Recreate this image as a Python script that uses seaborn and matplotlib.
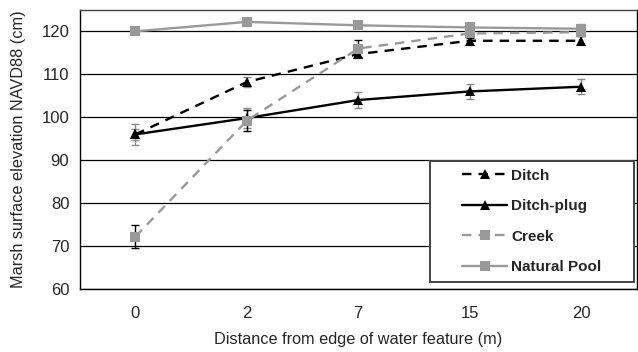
import numpy as np
import pandas as pd
import seaborn as sns
import matplotlib.pyplot as plt
from matplotlib.patches import Rectangle

distances = ["0", "2", "7", "15", "20"]
ditch = [96.0, 108.2, 114.7, 117.8, 117.8]
ditch_err = [1.2, 1.2, 1.0, 1.0, 1.0]
ditch_plug = [96.0, 99.8, 104.0, 106.0, 107.1]
ditch_plug_err = [2.4, 2.4, 1.8, 1.8, 1.7]
creek = [72.2, 99.2, 116.0, 119.5, 119.8]
creek_err = [2.6, 2.4, 2.0, 1.0, 1.0]
pool = [120.0, 122.2, 121.4, 120.9, 120.6]
pool_err = [0.5, 0.5, 0.6, 1.0, 1.0]

sns.set_style("white")
plt.rcParams["font.family"] = ["Liberation Sans", "DejaVu Sans"]

fig = plt.figure(figsize=(6.38, 3.52), dpi=100)
ax = fig.add_axes([0.125, 0.179, 0.873, 0.793])

pos = np.arange(len(distances))
series = [
    ("Ditch", ditch, ditch_err, "black", (0, (4, 3)), "^", "#888888"),
    ("Ditch-plug", ditch_plug, ditch_plug_err, "black", "-", "^", "#888888"),
    ("Creek", creek, creek_err, "#999999", (0, (4, 3)), "s", "black"),
    ("Natural Pool", pool, pool_err, "#999999", "-", "s", "#888888"),
]

for name, vals, errs, col, ls, mk, ecol in series:
    ax.errorbar(pos, vals, yerr=errs, fmt="none", ecolor=ecol, elinewidth=1,
                capsize=3, capthick=1, zorder=3)
    df = pd.DataFrame({"x": pos, "y": vals})
    sns.lineplot(data=df, x="x", y="y", ax=ax, color=col, linestyle=ls,
                 linewidth=1.7, marker=mk, markersize=7 if mk == "s" else 6.5,
                 markeredgewidth=0, label=name, zorder=4)

ax.set_xlim(-0.5, 4.45)
ax.set_ylim(60, 125)
ax.set_yticks(range(60, 121, 10))
ax.set_xticks(pos)
ax.set_xticklabels(distances)
ax.set_xticks(np.arange(-0.5, 4.6, 1), minor=True)
ax.tick_params(axis="x", which="major", length=0, labelsize=12, pad=12.5)
ax.tick_params(axis="x", which="minor", length=5, width=1, color="black", direction="out")
ax.tick_params(axis="y", length=4, width=1, color="black", direction="out", labelsize=12)
ax.yaxis.grid(True, color="black", linewidth=0.9)
ax.set_axisbelow(True)
for s in ax.spines.values():
    s.set_color("black")
    s.set_linewidth(1)
ax.spines["top"].set_color("#444444")

ax.set_xlabel("Distance from edge of water feature (m)", fontsize=11.7, labelpad=8)
ax.set_ylabel("Marsh surface elevation NAVD88 (cm)", fontsize=11.7, labelpad=11)

# legend box drawn separately: wide side padding like the original
box = Rectangle((430 / 638, 1 - 282 / 352), 204 / 638, 121 / 352,
                transform=fig.transFigure, facecolor="white",
                edgecolor="#444444", linewidth=1.4, zorder=5.5, clip_on=False)
ax.add_patch(box)
leg = ax.legend(loc="center", bbox_to_anchor=(532 / 638, 1 - 221.5 / 352),
                bbox_transform=fig.transFigure, frameon=False,
                prop={"weight": "bold", "size": 11}, handlelength=2.9,
                handletextpad=0.3, labelspacing=1.08)
leg.set_zorder(6)

fig.savefig("out.png", dpi=100)
